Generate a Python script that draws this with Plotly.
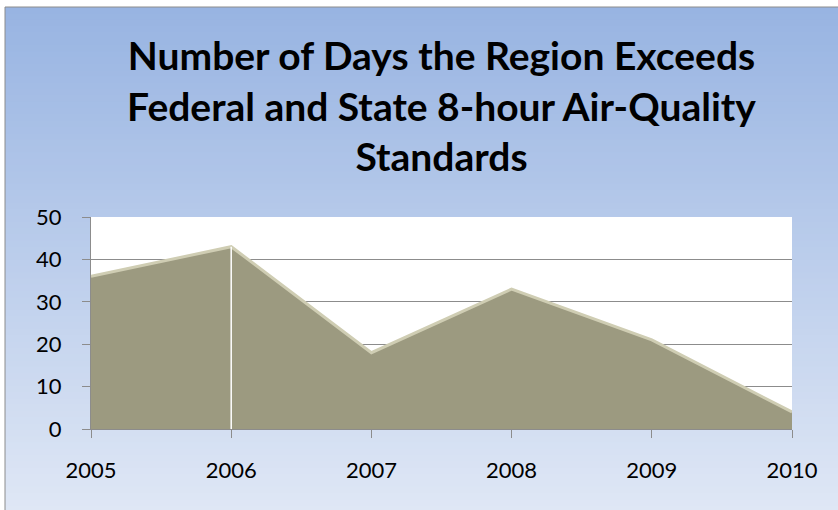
import plotly.graph_objects as go

years = [2005, 2006, 2007, 2008, 2009, 2010]
year_labels = ["2005", "2006", "2007", "2008", "2009", "2010"]
days = [36, 43, 18, 33, 21, 4]
y_ticks = [0, 10, 20, 30, 40, 50]

title = "Number of Days the Region Exceeds<br>Federal and State 8-hour Air-Quality<br>Standards"

W, H = 838, 510
ML, MR, MT, MB = 91, 46, 217, 81
PW = W - ML - MR
PH = H - MT - MB


def px_x(px):
    return (px - ML) / PW


def px_y(py):
    return (H - MB - py) / PH


fig = go.Figure()

# filled area
fig.add_trace(go.Scatter(
    x=years, y=days, mode="lines", fill="tozeroy",
    fillcolor="#9c9a80", line=dict(color="#cfcdb3", width=3),
    hoverinfo="skip", showlegend=False,
))

shapes = []
# gradient background inside the frame
top = (0x98, 0xb4, 0xe2)
bot = (0xdf, 0xe7, 0xf5)
n = 80
ytop, ybot = 7, H + 2
for i in range(n):
    t = i / (n - 1)
    c = tuple(round(top[k] + (bot[k] - top[k]) * t) for k in range(3))
    pa = ytop + (ybot - ytop) * i / n
    pb = ytop + (ybot - ytop) * (i + 1) / n + 1
    shapes.append(dict(type="rect", xref="paper", yref="paper",
                       x0=px_x(5), x1=px_x(W + 5), y0=px_y(pb), y1=px_y(pa),
                       fillcolor="rgb(%d,%d,%d)" % c, line=dict(width=0),
                       layer="below"))
# frame border
shapes.append(dict(type="rect", xref="paper", yref="paper",
                   x0=px_x(5), x1=px_x(W + 5), y0=px_y(H + 5), y1=px_y(7),
                   fillcolor="rgba(0,0,0,0)", line=dict(color="#8c8c8c", width=1),
                   layer="below"))
# white plot area
shapes.append(dict(type="rect", xref="paper", yref="paper",
                   x0=0, x1=1, y0=0, y1=1,
                   fillcolor="white", line=dict(width=0), layer="below"))
# white drop line at 2006
shapes.append(dict(type="line", xref="x", yref="y",
                   x0=years[1], x1=years[1], y0=0, y1=days[1],
                   line=dict(color="white", width=1.5), layer="above"))

fig.update_layout(
    width=W, height=H,
    margin=dict(l=ML, r=MR, t=MT, b=MB, autoexpand=False),
    paper_bgcolor="white",
    plot_bgcolor="rgba(0,0,0,0)",
    shapes=shapes,
    title=dict(text=title, x=0.5, xref="paper", xanchor="center",
               y=1 - 70 / H, yanchor="top",
               font=dict(family="Lato", size=39, color="black", weight="bold")),
    font=dict(family="Lato", size=22, color="black"),
)
fig.update_xaxes(
    range=[years[0], years[-1]], tickvals=years, ticktext=year_labels,
    showgrid=False, showline=True, linecolor="#8c8c8c", linewidth=1,
    ticks="outside", ticklen=8, tickcolor="#8c8c8c",
    ticklabelstandoff=14, zeroline=False,
)
fig.update_yaxes(
    range=[0, 50], tickvals=y_ticks,
    showgrid=True, gridcolor="#8c8c8c", gridwidth=1,
    showline=True, linecolor="#8c8c8c", linewidth=1,
    ticks="outside", ticklen=8, tickcolor="#8c8c8c",
    ticklabelstandoff=16, zeroline=False,
)

fig.write_html("out.html", config={"displayModeBar": False},
               post_script="document.body.style.margin='0';")
